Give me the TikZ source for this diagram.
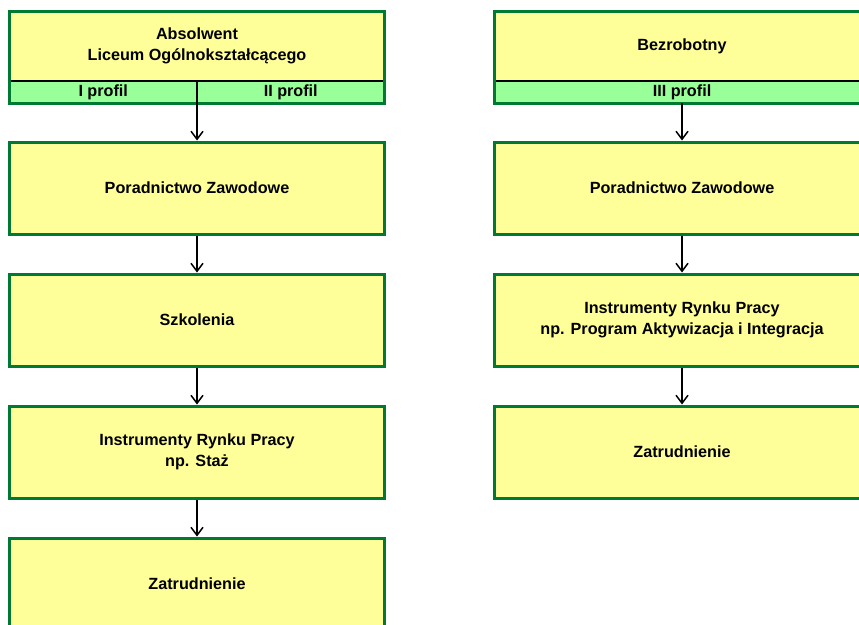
\documentclass[tikz,border=0pt]{standalone}
\usepackage{fontspec}
\setmainfont{Liberation Sans}
\usetikzlibrary{positioning, arrows.meta}

\definecolor{boxyellow}{RGB}{255,255,153}
\definecolor{stripgreen}{RGB}{153,255,153}
\definecolor{edgegreen}{RGB}{0,122,51}

\begin{document}
\begin{tikzpicture}[x=1pt, y=1pt,
    arrow/.style={-{Straight Barb[length=8pt, width=12pt]}, line width=1.5pt},
    label/.style={font=\fontsize{16.2}{21}\selectfont\bfseries, align=center},
    block/.style={rectangle, draw=edgegreen, line width=3pt, fill=boxyellow, label,
                  minimum width=375pt, minimum height=92pt},
    head/.style={rectangle, fill=boxyellow, outer sep=0pt, label,
                 minimum width=375pt, minimum height=70pt},
    profile/.style={rectangle, fill=stripgreen, outer sep=0pt, label,
                    minimum height=22pt, inner sep=0pt}
]
    \path[use as bounding box] (0, 0) rectangle (859, -624);

    % === Left column: Absolwent LO ===
    \node[head] (absL) at (197, -46) {Absolwent\\Liceum Ogólnokształcącego};
    \node[profile, minimum width=187.5pt] (profI) at (103.25, -92) {I profil};
    \node[profile, minimum width=187.5pt] (profII) at (290.75, -92) {II profil};
    \draw[line width=1.5pt] (absL.south west) -- (absL.south east);
    \draw[edgegreen, line width=3pt] (absL.north west) rectangle (profII.south east);

    \node[block] (porL) at (197, -188) {Poradnictwo Zawodowe};
    \node[block] (szkL) at (197, -320) {Szkolenia};
    \node[block] (irpL) at (197, -452) {Instrumenty Rynku Pracy\\np. Staż};
    \node[block] (zatL) at (197, -584) {Zatrudnienie};

    \draw[arrow] (absL.south) -- (porL.north);
    \draw[arrow] (porL) -- (szkL);
    \draw[arrow] (szkL) -- (irpL);
    \draw[arrow] (irpL) -- (zatL);

    % === Right column: Bezrobotny ===
    \node[head] (bezR) at (682, -46) {Bezrobotny};
    \node[profile, minimum width=375pt] (profIII) at (682, -92) {III profil};
    \draw[line width=1.5pt] (bezR.south west) -- (bezR.south east);
    \draw[edgegreen, line width=3pt] (bezR.north west) rectangle (profIII.south east);

    \node[block] (porR) at (682, -188) {Poradnictwo Zawodowe};
    \node[block] (irpR) at (682, -320) {Instrumenty Rynku Pracy\\np. Program Aktywizacja i Integracja};
    \node[block] (zatR) at (682, -452) {Zatrudnienie};

    \draw[arrow] (profIII) -- (porR);
    \draw[arrow] (porR) -- (irpR);
    \draw[arrow] (irpR) -- (zatR);

\end{tikzpicture}
\end{document}
